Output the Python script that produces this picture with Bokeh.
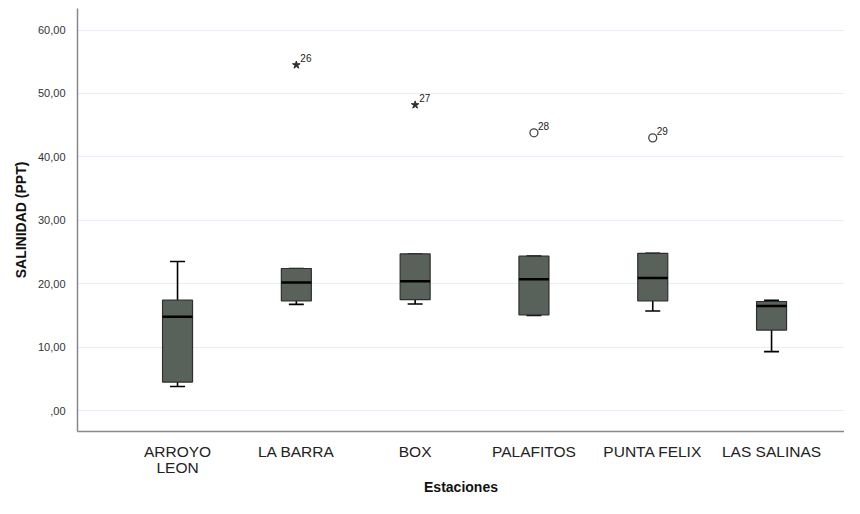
from bokeh.plotting import figure
from bokeh.models import ColumnDataSource, FixedTicker, Range1d
from bokeh.embed import file_html
from bokeh.resources import INLINE
from bokeh.core.properties import value
from bokeh.transform import dodge

stations = ["ARROYO\nLEON", "LA BARRA", "BOX", "PALAFITOS", "PUNTA FELIX", "LAS SALINAS"]
whisker_low = [3.8, 16.75, 16.8, 15.0, 15.7, 9.3]
q1 = [4.5, 17.3, 17.5, 15.1, 17.3, 12.7]
median = [14.8, 20.2, 20.4, 20.7, 20.9, 16.5]
q3 = [17.4, 22.4, 24.7, 24.35, 24.8, 17.2]
whisker_high = [23.5, 22.4, 24.7, 24.35, 24.8, 17.4]

out_station = [2, 3]
out_value = [54.5, 48.2]
out_label = ["26", "27"]
circ_station = [4, 5]
circ_value = [43.8, 43.0]
circ_label = ["28", "29"]

y_ticks = [0, 10, 20, 30, 40, 50, 60]
y_tick_labels = [",00", "10,00", "20,00", "30,00", "40,00", "50,00", "60,00"]

xs = list(range(1, len(stations) + 1))
src = ColumnDataSource(dict(x=xs, lo=whisker_low, q1=q1, med=median, q3=q3, hi=whisker_high))

p = figure(width=844, height=498, output_backend="svg", toolbar_location=None,
           x_range=Range1d(0.158, 6.614), y_range=Range1d(-3.3, 63.4),
           min_border_left=77, min_border_right=0, min_border_top=8, min_border_bottom=64)
p.outline_line_color = None
p.background_fill_color = "white"

BW = 0.2525
CW = 0.126
# whiskers
p.segment(x0="x", x1="x", y0="lo", y1="q1", source=src, line_color="black", line_width=1.6)
p.segment(x0="x", x1="x", y0="q3", y1="hi", source=src, line_color="black", line_width=1.6)
p.segment(x0=dodge("x", -CW / 2), x1=dodge("x", CW / 2), y0="lo", y1="lo", source=src,
          line_color="black", line_width=1.6)
p.segment(x0=dodge("x", -CW / 2), x1=dodge("x", CW / 2), y0="hi", y1="hi", source=src,
          line_color="black", line_width=1.6)
# boxes
p.vbar(x="x", width=BW, bottom="q1", top="q3", source=src, fill_color="#58625a",
       line_color="#2e2e2e", line_width=1.2)
# medians
p.segment(x0=dodge("x", -BW / 2), x1=dodge("x", BW / 2), y0="med", y1="med", source=src,
          line_color="black", line_width=2.5)

# outliers
p.scatter(out_station, out_value, marker="star", size=8, fill_color="#333333", line_color="#333333")
p.scatter(circ_station, circ_value, marker="circle", size=8, fill_color="white",
          line_color="#444444", line_width=1.3)
p.text(out_station + circ_station, out_value + circ_value, text=out_label + circ_label,
       x_offset=4, y_offset=-3, text_font=value("Liberation Sans"), text_font_size="10px",
       text_color="#222222", text_baseline="bottom")

# axes
p.xgrid.grid_line_color = None
p.ygrid.grid_line_color = "#e6edf8"
p.ygrid.ticker = FixedTicker(ticks=y_ticks)
p.yaxis.ticker = FixedTicker(ticks=y_ticks)
p.yaxis.major_label_overrides = {t: l for t, l in zip(y_ticks, y_tick_labels)}
p.xaxis.ticker = FixedTicker(ticks=xs)
p.xaxis.major_label_overrides = {x: s for x, s in zip(xs, stations)}

for ax in (p.xaxis, p.yaxis):
    ax.axis_line_color = "#888888"
    ax.axis_line_width = 1.5
    ax.major_tick_line_color = None
    ax.minor_tick_line_color = None

p.yaxis.major_label_text_font = "Liberation Sans"
p.yaxis.major_label_text_font_size = "11px"
p.yaxis.major_label_text_color = "#333333"
p.yaxis.major_label_standoff = 6
p.yaxis.axis_label = "SALINIDAD (PPT)"
p.yaxis.axis_label_text_font = "Liberation Sans"
p.yaxis.axis_label_text_font_size = "14px"
p.yaxis.axis_label_text_font_style = "bold"
p.yaxis.axis_label_text_color = "#111111"
p.yaxis.axis_label_standoff = 6

p.xaxis.major_label_text_font = "Liberation Sans"
p.xaxis.major_label_text_font_size = "15.5px"
p.xaxis.major_label_text_line_height = 0.98
p.xaxis.major_label_text_color = "#222222"
p.xaxis.major_label_standoff = 5
p.xaxis.axis_label = "Estaciones"
p.xaxis.axis_label_text_font = "Liberation Sans"
p.xaxis.axis_label_text_font_size = "14px"
p.xaxis.axis_label_text_line_height = 1.0
p.xaxis.axis_label_text_font_style = "bold"
p.xaxis.axis_label_text_color = "#111111"
p.xaxis.axis_label_standoff = 0

open("out.html", "w").write(file_html(p, INLINE))
